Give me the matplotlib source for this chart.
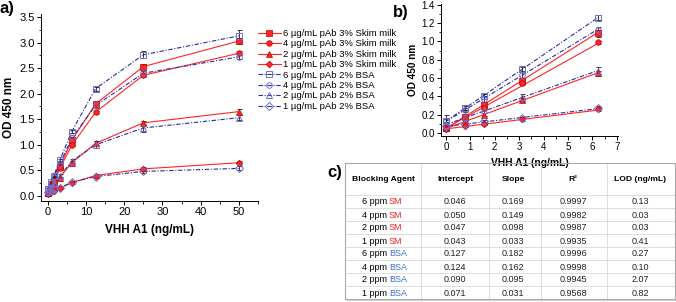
import numpy as np
import matplotlib
matplotlib.use("Agg")
import matplotlib.pyplot as plt
from matplotlib.ticker import MultipleLocator, FormatStrFormatter

plt.rcParams['font.family'] = ['Liberation Sans', 'DejaVu Sans']

# VHH A1 concentrations (ng/mL)
conc = [0, 0.78, 1.56, 3.125, 6.25, 12.5, 25, 50]

# OD 450 readings, skim milk blocking (red)
sm6 = [0.05, 0.17, 0.30, 0.57, 1.09, 1.80, 2.53, 3.03]
sm4 = [0.05, 0.15, 0.27, 0.54, 0.99, 1.64, 2.36, 2.79]
sm2 = [0.05, 0.12, 0.20, 0.36, 0.65, 1.03, 1.43, 1.65]
sm1 = [0.04, 0.07, 0.10, 0.15, 0.26, 0.40, 0.53, 0.65]
# BSA blocking (blue)
bsa6 = [0.13, 0.27, 0.40, 0.70, 1.26, 2.10, 2.76, 3.13]
bsa4 = [0.13, 0.25, 0.37, 0.63, 1.13, 1.77, 2.40, 2.72]
bsa2 = [0.09, 0.17, 0.25, 0.39, 0.68, 1.00, 1.33, 1.53]
bsa1 = [0.07, 0.10, 0.13, 0.16, 0.27, 0.38, 0.48, 0.54]

# error bars
sm6_err = [0.01, 0.02, 0.02, 0.03, 0.04, 0.04, 0.06, 0.05]
sm4_err = [0.01, 0.01, 0.02, 0.02, 0.02, 0.03, 0.03, 0.04]
sm2_err = [0.01, 0.01, 0.02, 0.02, 0.03, 0.04, 0.04, 0.05]
sm1_err = [0.01, 0.01, 0.01, 0.02, 0.02, 0.03, 0.04, 0.04]
bsa6_err = [0.07, 0.02, 0.03, 0.02, 0.03, 0.04, 0.07, 0.12]
bsa4_err = [0.02, 0.02, 0.03, 0.04, 0.03, 0.05, 0.05, 0.04]
bsa2_err = [0.03, 0.02, 0.03, 0.04, 0.04, 0.07, 0.07, 0.05]
bsa1_err = [0.02, 0.02, 0.01, 0.01, 0.02, 0.02, 0.03, 0.04]

labels = ['6 µg/mL pAb 3% Skim milk', '4 µg/mL pAb 3% Skim milk',
          '2 µg/mL pAb 3% Skim milk', '1 µg/mL pAb 3% Skim milk',
          '6 µg/mL pAb 2% BSA', '4 µg/mL pAb 2% BSA',
          '2 µg/mL pAb 2% BSA', '1 µg/mL pAb 2% BSA']

# table c)
agent_num = ['6 ppm', '4 ppm', '2 ppm', '1 ppm', '6 ppm', '4 ppm', '2 ppm', '1 ppm']
agent_name = ['SM', 'SM', 'SM', 'SM', 'BSA', 'BSA', 'BSA', 'BSA']
intercept = [0.046, 0.050, 0.047, 0.043, 0.127, 0.124, 0.090, 0.071]
slope = [0.169, 0.149, 0.098, 0.033, 0.182, 0.162, 0.095, 0.031]
r2 = ['0.9997', '0.9982', '0.9987', '0.9935', '0.9996', '0.9998', '0.9945', '0.9568']
lod = ['0.13', '0.03', '0.03', '0.41', '0.27', '0.10', '2.07', '0.82']

series = [sm6, sm4, sm2, sm1, bsa6, bsa4, bsa2, bsa1]
errs = [sm6_err, sm4_err, sm2_err, sm1_err, bsa6_err, bsa4_err, bsa2_err, bsa1_err]
markers = ['s', 'o', '^', 'D', 's', 'o', '^', 'D']
msizes = [4, 4, 4.2, 3.4, 4, 4, 4.2, 3.6]

RED = '#ff2424'
BLUE = '#2a2aa8'
BLUE_MK = '#6f6fcf'
DASHDOT = (0, (4, 1.5, 1, 1.5))

W, H = 676, 302
fig = plt.figure(figsize=(W / 100, H / 100), dpi=100)


def px_axes(x0, y0, x1, y1):
    return fig.add_axes([x0 / W, 1 - y1 / H, (x1 - x0) / W, (y1 - y0) / H])


def style_axes(ax, lsize):
    for s in ['top', 'right']:
        ax.spines[s].set_visible(False)
    for s in ['left', 'bottom']:
        ax.spines[s].set_linewidth(0.7)
    ax.tick_params(which='major', direction='out', length=3, width=0.7,
                   labelsize=lsize, pad=1.5)
    ax.tick_params(which='minor', direction='out', length=1.8, width=0.6)


def draw(ax, npts, fit=False):
    for i, (y, e) in enumerate(zip(series, errs)):
        sm = i < 4
        c = RED if sm else BLUE
        ls = '-' if sm else DASHDOT
        if fit:
            xx = np.array([0, conc[npts - 1]])
            ax.plot(xx, intercept[i] + slope[i] * xx, color=c, ls=ls, lw=0.8, zorder=2)
        else:
            ax.plot(conc[:npts], y[:npts], color=c, ls=ls, lw=0.8, zorder=2)
        ax.errorbar(conc[:npts], y[:npts], yerr=e[:npts], fmt='none',
                    ecolor='#202020', elinewidth=0.6, capsize=1.8, capthick=0.6, zorder=3)
        if sm:
            ax.plot(conc[:npts], y[:npts], ls='none', marker=markers[i],
                    ms=msizes[i], mfc=RED, mec='#c00000', mew=0.5, zorder=4)
        else:
            ax.plot(conc[:npts], y[:npts], ls='none', marker=markers[i],
                    ms=msizes[i], mfc='none', mec=BLUE_MK, mew=0.7, zorder=4)


# ---- panel a
ax_a = px_axes(41, 14.4, 258, 201.1)
draw(ax_a, 8)
ax_a.set_xlim(-1.8, 55)
ax_a.set_ylim(-0.1, 3.55)
ax_a.xaxis.set_major_locator(MultipleLocator(10))
ax_a.xaxis.set_minor_locator(MultipleLocator(5))
ax_a.yaxis.set_major_locator(MultipleLocator(0.5))
ax_a.yaxis.set_minor_locator(MultipleLocator(0.25))
ax_a.yaxis.set_major_formatter(FormatStrFormatter('%.1f'))
style_axes(ax_a, 8)
ax_a.set_xlabel('VHH A1 (ng/mL)', fontsize=8.5, fontweight='bold', labelpad=5)
ax_a.set_ylabel('OD 450 nm', fontsize=8.5, fontweight='bold', labelpad=3)

# legend
leg_handles = []
for i in range(8):
    if i < 4:
        h, = ax_a.plot([], [], color=RED, ls='-', lw=0.8, marker=markers[i],
                       ms=msizes[i], mfc=RED, mec='#c00000', mew=0.5)
    else:
        h, = ax_a.plot([], [], color=BLUE, ls=DASHDOT, lw=0.8, marker=markers[i],
                       ms=msizes[i], mfc='none', mec=BLUE_MK, mew=0.7)
    leg_handles.append(h)
fig.legend(leg_handles, labels, loc='upper left', bbox_to_anchor=(258 / W, 1 - 29 / H),
           frameon=False, fontsize=6.8, handlelength=2.4, handletextpad=0.2,
           labelspacing=0.15, borderpad=0, borderaxespad=0)

# ---- panel b
ax_b = px_axes(441, 4, 618, 136)
draw(ax_b, 5, fit=True)
ax_b.set_xlim(-0.2, 7.05)
ax_b.set_ylim(-0.035, 1.41)
ax_b.xaxis.set_major_locator(MultipleLocator(1))
ax_b.xaxis.set_minor_locator(MultipleLocator(0.5))
ax_b.yaxis.set_major_locator(MultipleLocator(0.2))
ax_b.yaxis.set_minor_locator(MultipleLocator(0.1))
ax_b.yaxis.set_major_formatter(FormatStrFormatter('%.1f'))
style_axes(ax_b, 7)
ax_b.set_xlabel('VHH A1 (ng/mL)', fontsize=7.4, fontweight='bold', labelpad=4)
ax_b.set_ylabel('OD 450 nm', fontsize=7.2, fontweight='bold', labelpad=2)

# panel letters
fig.text(0 / W, 1 - 9 / H, 'a)', fontsize=12, fontweight='bold', va='center', ha='left')
fig.text(393 / W, 1 - 12 / H, 'b)', fontsize=12, fontweight='bold', va='center', ha='left')
fig.text(327 / W, 1 - 173 / H, 'c)', fontsize=12, fontweight='bold', va='center', ha='left')

# ---- table c
ax_t = px_axes(344, 162, 676, 302)
ax_t.set_xlim(344, 676)
ax_t.set_ylim(302, 162)
ax_t.axis('off')
col_edges = [345, 421, 489, 541, 607, 675]
col_centers = [383, 455, 513, 573, 640]
top, head_bot, row_h = 163, 195, 13.0
bottom = head_bot + row_h * 8
grid_c = '#d8d8d8'
for y in [head_bot + row_h * k for k in range(1, 8)] + [head_bot]:
    ax_t.plot([345, 675], [y, y], color=grid_c, lw=0.6)
for x in col_edges[1:-1]:
    ax_t.plot([x, x], [top, bottom], color=grid_c, lw=0.6)
ax_t.plot([345, 675, 675, 345, 345], [top, top, bottom, bottom, top], color='#a8a8a8', lw=0.8)
ax_t.plot([346.5, 676.5, 676.5], [bottom + 1.2, bottom + 1.2, top + 1.5], color='#d0d0d0', lw=0.8)

headers = ['Blocking Agent', 'Intercept', 'Slope', 'R²', 'LOD (ng/mL)']
for x, h in zip(col_centers, headers):
    ax_t.text(x, (top + head_bot) / 2 + 0.5, h, ha='center', va='center',
              fontsize=6.1, fontweight='bold')
for k in range(8):
    yc = head_bot + row_h * (k + 0.5) + 0.5
    ax_t.text(387, yc, agent_num[k], ha='right', va='center', fontsize=6.5)
    ax_t.text(389, yc, agent_name[k], ha='left', va='center', fontsize=6.5,
              color='#ff2020' if agent_name[k] == 'SM' else '#3f6fd0')
    ax_t.text(col_centers[1], yc, '%.3f' % intercept[k], ha='center', va='center', fontsize=6.5, color='#222222')
    ax_t.text(col_centers[2], yc, '%.3f' % slope[k], ha='center', va='center', fontsize=6.5, color='#222222')
    ax_t.text(col_centers[3], yc, r2[k], ha='center', va='center', fontsize=6.5, color='#222222')
    ax_t.text(col_centers[4], yc, lod[k], ha='center', va='center', fontsize=6.5, color='#222222')

fig.savefig('out.png', dpi=100)
